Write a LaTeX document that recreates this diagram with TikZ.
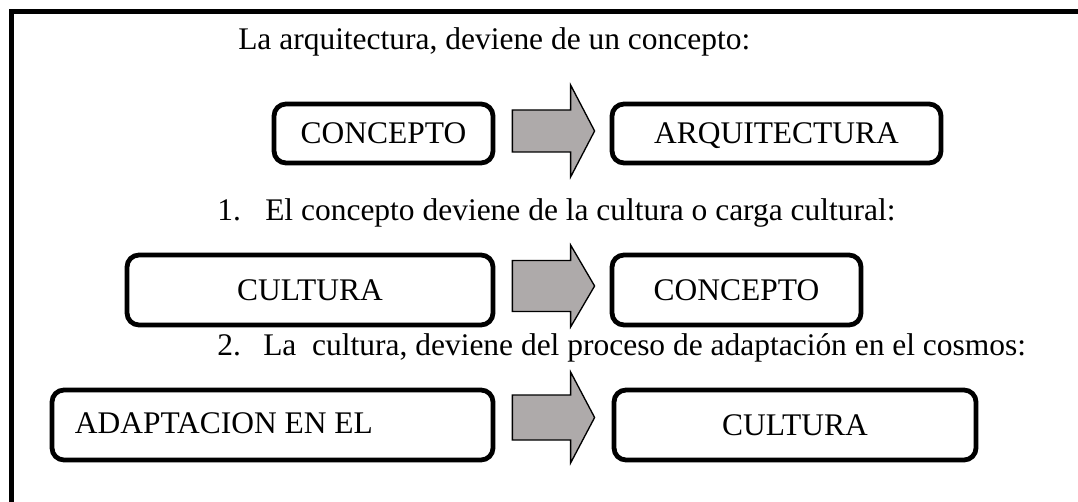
\documentclass[tikz,border=0pt]{standalone}
\usepackage{fontspec}
\setmainfont{Liberation Serif}
\usepackage{xcolor}
\usetikzlibrary{calc}
\definecolor{grisflecha}{HTML}{AEAAAA}

\begin{document}
\begin{tikzpicture}[x=0.75pt,y=-0.75pt,
	caja/.style={draw, line width=3.6pt, rounded corners=9pt, inner sep=0pt, text depth=0pt},
	flecha/.style={draw, line width=1pt, fill=grisflecha, line join=miter},
	texto/.style={inner sep=0pt, anchor=base west}]
	\newcommand{\mifuente}[1]{
		\fontsize{23.6}{28}\selectfont{#1}
	}\newcommand{\bloqueflecha}[4]{
		\draw[flecha] ($(#1)+(0,-#3)$) -- ($(#2)+(-24,-#3)$) -- ($(#2)+(-24,-#4)$) -- (#2)
			-- ($(#2)+(-24,#4)$) -- ($(#2)+(-24,#3)$) -- ($(#1)+(0,#3)$) -- cycle;
	}%Page
	\useasboundingbox (0,0) rectangle (1078,502);
	%Frame, only top and left side
	\coordinate (marcoAbajo) at (11.5,502);
	\coordinate (marcoEsquina) at (11.5,11.5);
	\coordinate (marcoDerecha) at (1078,11.5);
	\draw[line width=3.75pt] (marcoAbajo) -- (marcoEsquina) -- (marcoDerecha);
	%The lines of text
	\node [texto] (titulo) at (238,50) {\mifuente{La arquitectura, deviene de un concepto:}};
	\node [texto] (num1) at (217,221) {\mifuente{1.}};
	\node [texto] (linea1) at (265,221) {\mifuente{El concepto deviene de la cultura o carga cultural:}};
	\node [texto] (num2) at (217,355) {\mifuente{2.}};
	\node [texto] (linea2) at (263,355) {\mifuente{La\ \ cultura, deviene del proceso de adaptación en el cosmos:}};
	%Row 1
	\coordinate (center10) at (383.5,133.5);
	\coordinate (center11) at (776.5,133.5);
	\node [caja, minimum width=164.25pt, minimum height=44.25pt] (cpt1) at (center10) {\mifuente{CONCEPTO}};
	\node [caja, minimum width=246.75pt, minimum height=44.25pt] (arq1) at (center11) {\mifuente{ARQUITECTURA}};
	\coordinate (cola1) at ($(cpt1.east)+(17,-2.5)$);
	\coordinate (punta1) at ($(arq1.west)+(-15,-2.5)$);
	\bloqueflecha{cola1}{punta1}{21}{46}
	%Row 2
	\coordinate (center20) at (310,290);
	\coordinate (center21) at (736.5,290);
	\node [caja, minimum width=274.5pt, minimum height=52.5pt] (cul2) at (center20) {\mifuente{CULTURA}};
	\node [caja, minimum width=186.75pt, minimum height=52.5pt] (cpt2) at (center21) {\mifuente{CONCEPTO}};
	\coordinate (cola2) at ($(cul2.east)+(17,-4)$);
	\coordinate (punta2) at ($(cpt2.west)+(-15,-4)$);
	\bloqueflecha{cola2}{punta2}{25.5}{41}
	%Row 3
	\coordinate (center30) at (272.5,425);
	\coordinate (center31) at (795,425);
	\node [caja, minimum width=330.75pt, minimum height=52.5pt] (ada3) at (center30) {};
	\node [inner sep=0pt, anchor=west, text depth=0pt] (tada3) at ($(ada3.west)+(25,-2)$) {\mifuente{ADAPTACION EN EL}};
	\node [caja, minimum width=271.5pt, minimum height=52.5pt] (cul3) at (center31) {\mifuente{CULTURA}};
	\coordinate (cola3) at ($(ada3.east)+(17,-7.5)$);
	\coordinate (punta3) at ($(cul3.west)+(-17,-7.5)$);
	\bloqueflecha{cola3}{punta3}{22.5}{45.5}
\end{tikzpicture}
\end{document}
